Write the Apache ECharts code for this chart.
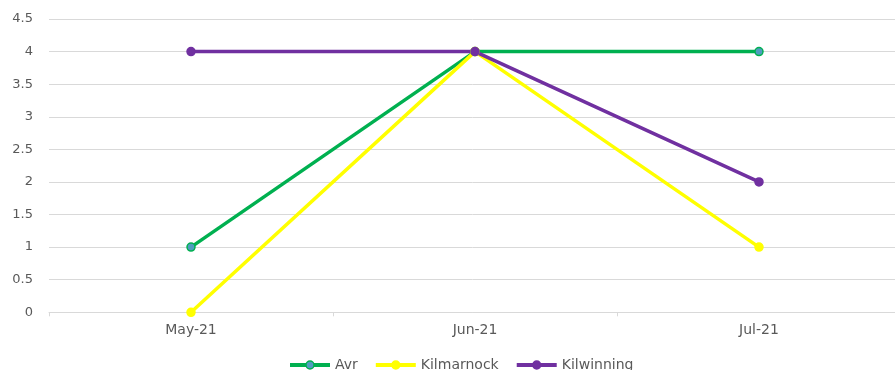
<!DOCTYPE html>
<html>
<head>
<meta charset="utf-8">
<script src="https://cdn.jsdelivr.net/npm/echarts@6/dist/echarts.min.js"></script>
<style>
  html, body { margin: 0; padding: 0; background: #fff; }
  #chart { width: 895px; height: 370px; }
</style>
</head>
<body>
<div id="chart"></div>
<script>
// Monthly scores per site
const months = ['May-21', 'Jun-21', 'Jul-21'];
const ayr = [1, 4, 4];
const kilmarnock = [0, 4, 1];
const kilwinning = [4, 4, 2];

const FONT = 'DejaVu Sans';
const GREY = '#595959';

const styles = {
  Avr: { line: '#00b050', fill: '#4f9dbf', border: '#00b050' },
  Kilmarnock: { line: '#ffff00', fill: '#ffff00', border: '#ffff00' },
  Kilwinning: { line: '#7030a0', fill: '#7030a0', border: '#7030a0' }
};

function lineSeries(name, data) {
  const s = styles[name];
  return {
    name: name,
    type: 'line',
    data: data,
    symbol: 'circle',
    symbolSize: 8,
    lineStyle: { color: s.line, width: 3.5 },
    itemStyle: { color: s.fill, borderColor: s.border, borderWidth: 1.5 },
    emphasis: { disabled: true }
  };
}

function legendItem(name) {
  const s = styles[name];
  return {
    name: name,
    itemStyle: { color: s.fill, borderColor: s.border, borderWidth: 1.5 },
    lineStyle: { color: s.line, width: 4 }
  };
}

const chart = echarts.init(document.getElementById('chart'), null, { renderer: 'canvas' });
chart.setOption({
  animation: false,
  backgroundColor: '#fff',
  grid: {
    left: 49, top: 19, right: -6, bottom: 57.7,
    containLabel: false,
    outerBoundsMode: 'none'
  },
  legend: {
    left: 288,
    top: 358,
    padding: 0,
    itemWidth: 40,
    itemHeight: 10,
    itemGap: 16,
    textStyle: { fontFamily: FONT, fontSize: 14, color: GREY },
    data: ['Avr', 'Kilmarnock', 'Kilwinning'].map(legendItem)
  },
  xAxis: {
    type: 'category',
    data: months,
    boundaryGap: true,
    axisLine: { lineStyle: { color: '#d9d9d9', width: 1 } },
    axisTick: { show: true, length: 4, lineStyle: { color: '#d9d9d9' } },
    axisLabel: { fontFamily: FONT, fontSize: 14, color: GREY, margin: 11 }
  },
  yAxis: {
    type: 'value',
    min: 0,
    max: 4.5,
    interval: 0.5,
    axisLine: { show: false },
    axisTick: { show: false },
    splitLine: { lineStyle: { color: '#d9d9d9', width: 1 } },
    axisLabel: { fontFamily: FONT, fontSize: 13, color: GREY, margin: 16 }
  },
  series: [
    lineSeries('Avr', ayr),
    lineSeries('Kilmarnock', kilmarnock),
    lineSeries('Kilwinning', kilwinning)
  ]
});
</script>
</body>
</html>
